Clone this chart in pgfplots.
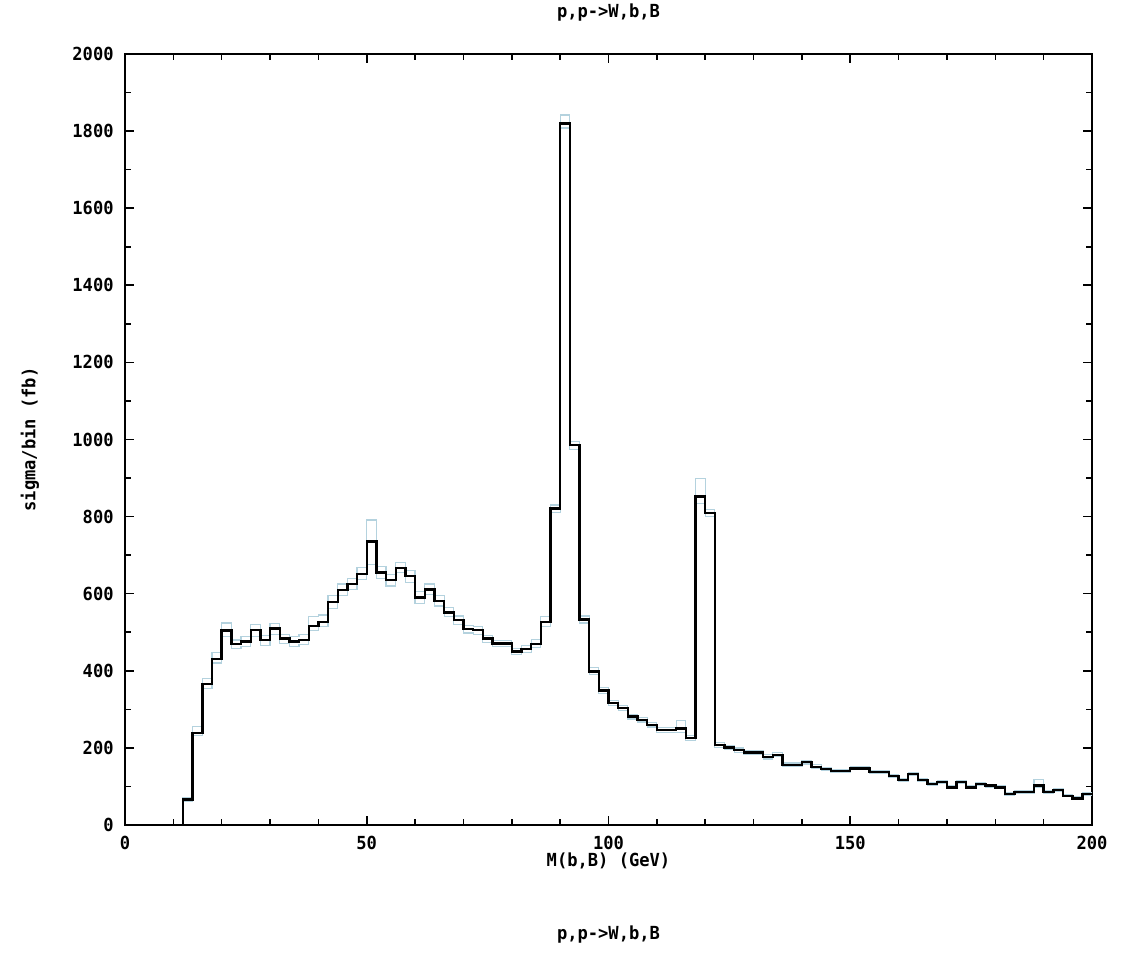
\documentclass[border=0pt]{standalone}
\usepackage{fontspec}
\setmainfont{DejaVu Sans Mono}[FakeStretch=0.95]
\setmonofont{DejaVu Sans Mono}[FakeStretch=0.95]
\usepackage{pgfplots}
\usepackage{pgfplotstable}
\pgfplotsset{compat=1.18}

\definecolor{errband}{RGB}{180,210,222}

% bin left edge, central value, upper and lower curves (fb per 2 GeV bin)
\pgfplotstableread{
x    c     up    lo
12   0     0     0
12   66    72    62
14   239   255   232
16   366   380   355
18   431   448   420
20   505   524   490
22   469   480   458
24   476   490   462
26   506   520   490
28   480   492   466
30   510   522   494
32   484   495   470
34   476   488   462
36   480   494   468
38   516   540   505
40   526   545   515
42   579   595   562
44   610   625   595
46   625   640   610
48   651   668   636
50   735   791   675
52   655   670   640
54   636   650   620
56   666   680   655
58   646   660   630
60   590   605   575
62   611   625   598
64   581   595   568
66   551   565   540
68   532   542   520
70   508   518   498
72   506   515   495
74   484   492   474
76   471   478   462
78   471   478   462
80   450   458   442
82   456   465   448
84   470   482   460
86   527   540   515
88   821   830   810
90   1820  1842  1808
92   985   995   975
94   533   542   524
96   398   408   390
98   349   356   342
100  316   322   310
102  303   309   297
104  281   287   275
106  273   279   267
108  260   266   254
110  246   252   240
112  246   252   240
114  250   272   240
116  226   232   220
118  852   898   835
120  809   818   800
122  207   213   202
124  201   207   196
126  194   200   189
128  188   194   183
130  188   194   183
132  176   182   171
134  182   188   177
136  156   161   152
138  156   161   152
140  163   168   158
142  151   156   147
144  145   150   141
146  140   145   136
148  140   145   136
150  147   152   143
152  147   152   143
154  137   142   133
156  137   142   133
158  127   132   123
160  117   121   113
162  132   137   128
164  117   121   113
166  106   110   102
168  111   115   107
170  97    101   94
172  111   115   107
174  97    101   94
176  106   110   102
178  102   106   98
180  97    101   94
182  80    84    77
184  86    90    83
186  86    90    83
188  102   117   98
190  86    90    83
192  91    95    88
194  76    80    73
196  69    73    66
198  80    84    77
200  80    84    77
}\hist

\newcommand{\gfont}{\bfseries\fontsize{9}{11}\selectfont}

\begin{document}
\begin{tikzpicture}
\begin{axis}[
    scale only axis,
    width=483.5pt, height=385.5pt,
    xmin=0, xmax=200, ymin=0, ymax=2000,
    xtick={0,50,...,200}, minor xtick={0,10,...,200},
    ytick={0,200,...,2000}, minor ytick={0,100,...,2000},
    tick align=inside,
    major tick length=4.5pt, minor tick length=2.8pt,
    axis line style={line width=1pt},
    every tick/.style={black, line width=0.8pt},
    font=\gfont,
    /pgf/number format/assume math mode=true,
    /pgf/number format/1000 sep={},
    ticklabel style={font=\gfont},
    xticklabel style={anchor=base, inner sep=0pt, yshift=-12.3pt},
    yticklabel style={anchor=east, inner sep=0pt, xshift=-5.5pt},
    xlabel={M(b,B) (GeV)},
    ylabel={sigma/bin (fb)},
    xlabel style={at={(axis description cs:0.5,-0.047)}, anchor=center, inner sep=0pt},
    ylabel style={at={(axis description cs:-0.0982,0.5)}, anchor=center, inner sep=0pt},
    clip=false,
]
\addplot[const plot mark left, errband, line width=0.6pt] table[x=x, y=up] {\hist};
\addplot[const plot mark left, errband, line width=0.6pt] table[x=x, y=lo] {\hist};
\addplot[const plot mark left, black, line width=1.2pt] table[x=x, y=c] {\hist};
\node[font=\gfont, inner sep=0pt] at (axis description cs:0.5,1.0532) {p,p->W,b,B};
\node[font=\gfont, inner sep=0pt] at (axis description cs:0.5,-0.1427) {p,p->W,b,B};
\end{axis}
\path (-62.5pt,-64pt) rectangle (502.5pt,412.5pt);
\end{tikzpicture}
\end{document}
